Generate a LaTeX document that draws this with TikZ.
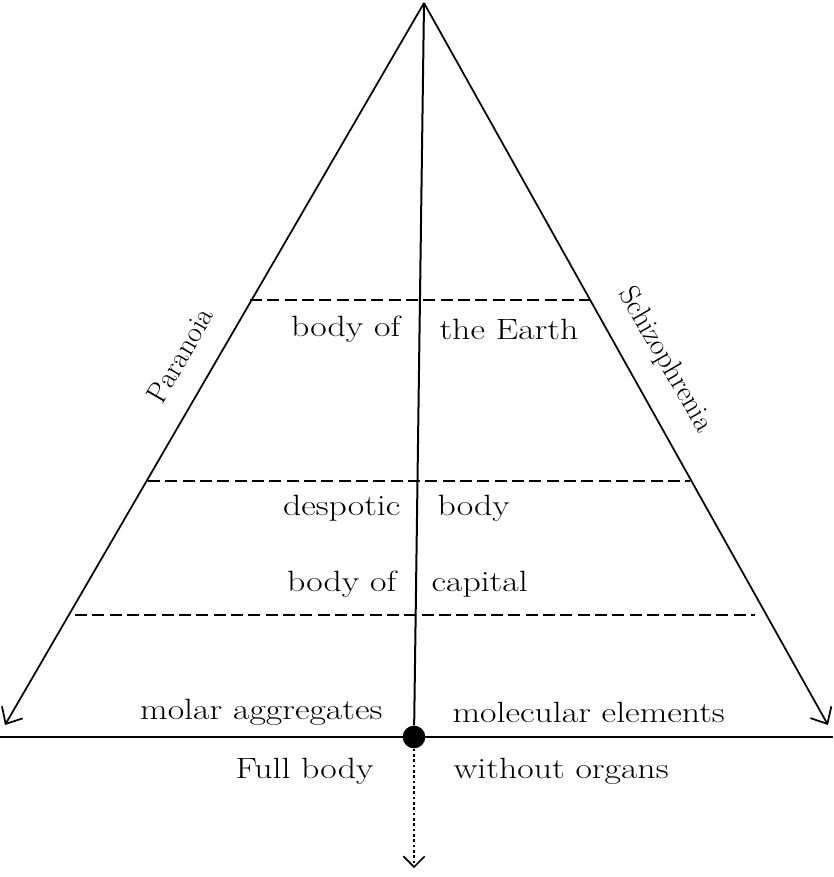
\documentclass[tikz,border=0pt]{standalone}
\usepackage{tikz}
\usetikzlibrary{arrows.meta}
\begin{document}
\begin{tikzpicture}[x=0.75pt,y=0.75pt,yscale=-1,xscale=1,
  lbl/.style={inner sep=0.75pt,font=\fontsize{22}{26}\selectfont},
  wide/.style={lbl,xscale=1.22},
  level/.style={dash pattern={on 9pt off 4pt},line width=1.2pt},
  side/.style={line width=1.3pt,-{Straight Barb[length=10pt,width=18pt]}}]
\useasboundingbox (0,0) rectangle (833,877);
% frame points
\coordinate (apex) at (424,3);
\coordinate (lend) at (5,725);
\coordinate (rend) at (828,725);
\coordinate (bl) at (0,737);
\coordinate (br) at (833,737);
\coordinate (down) at (414,868);
% sides and base
\draw [side] (apex) -- (lend);
\draw [side] (apex) -- (rend);
\draw [line width=1.5pt] (bl) -- (br);
\node (bwo) [circle,fill,inner sep=0pt,minimum size=17pt] at (414,737) {};
\draw [line width=1.5pt] (apex) -- (bwo);
\draw [line width=1.2pt,dash pattern={on 2pt off 2pt},-{Straight Barb[length=8pt,width=16pt]}] (bwo) -- (down);
% levels
\coordinate (e1) at (250,300); \coordinate (e2) at (590,300);
\coordinate (d1) at (148,481); \coordinate (d2) at (690,481);
\coordinate (c1) at (75,615);  \coordinate (c2) at (755,615);
\draw [level] (e1) -- (e2);
\draw [level] (d1) -- (d2);
\draw [level] (c1) -- (c2);
% Text Node
\node (earthL) [wide,anchor=east] at (402,329) {body of};
\node (earthR) [wide,anchor=west] at (438,329) {the Earth};
\node (despL) [wide,anchor=east] at (402,508) {despotic};
\node (despR) [wide,anchor=west] at (436,508) {body};
\node (capL) [wide,anchor=east] at (398,584) {body of};
\node (capR) [wide,anchor=west] at (430,584) {capital};
\node (molar) [wide,anchor=east] at (384,712) {molar aggregates};
\node (molec) [wide,anchor=west] at (451,712) {molecular elements};
\node (fullL) [wide,anchor=east] at (375,771) {Full body};
\node (fullR) [wide,anchor=west] at (452,771) {without organs};
\node (para) [lbl,rotate=60] at (180,355) {Paranoia};
\node (schizo) [lbl,rotate=-60] at (665,360) {Schizophrenia};
\end{tikzpicture}
\end{document}
